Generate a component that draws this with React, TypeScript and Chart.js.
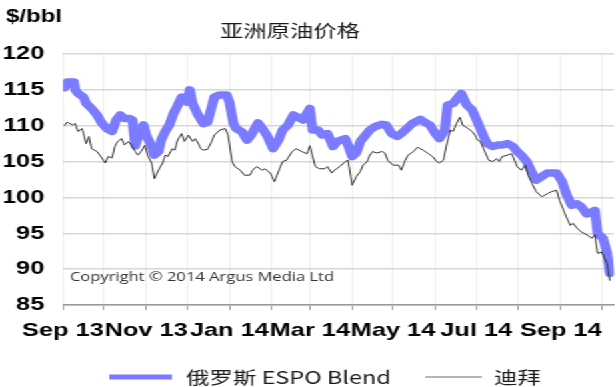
import React, { useEffect, useRef } from 'react';
import { Chart, registerables } from 'chart.js';

Chart.register(...registerables);

// ---------- data ----------
const AXIS_START = '2013-09-01';
const AXIS_END = '2014-10-10';

const monthTicks = [
  '2013-09-01', '2013-10-01', '2013-11-01', '2013-12-01', '2014-01-01', '2014-02-01', '2014-03-01',
  '2014-04-01', '2014-05-01', '2014-06-01', '2014-07-01', '2014-08-01', '2014-09-01', '2014-10-01',
];
const monthTickLabels = ['Sep 13', '', 'Nov 13', '', 'Jan 14', '', 'Mar 14', '', 'May 14', '', 'Jul 14', '', 'Sep 14', ''];

const yMin = 85;
const yMax = 120;
const yStep = 5;

const seriesNames = ['俄罗斯 ESPO Blend', '迪拜'];
const titleText = '亚洲原油价格';
const unitText = '$/bbl';
const copyrightText = 'Copyright © 2014 Argus Media Ltd';

const espoDates = [
  '2013-09-02', '2013-09-04', '2013-09-09', '2013-09-10', '2013-09-12', '2013-09-16', '2013-09-18', '2013-09-22',
  '2013-09-26', '2013-09-29', '2013-10-03', '2013-10-07', '2013-10-10', '2013-10-13', '2013-10-16', '2013-10-20',
  '2013-10-22', '2013-10-24', '2013-10-27', '2013-10-30', '2013-11-01', '2013-11-05', '2013-11-07', '2013-11-10',
  '2013-11-12', '2013-11-15', '2013-11-18', '2013-11-21', '2013-11-23', '2013-11-27', '2013-12-01', '2013-12-03',
  '2013-12-05', '2013-12-09', '2013-12-13', '2013-12-16', '2013-12-19', '2013-12-21', '2013-12-25', '2013-12-30',
  '2014-01-01', '2014-01-04', '2014-01-06', '2014-01-10', '2014-01-14', '2014-01-17', '2014-01-22', '2014-01-26',
  '2014-01-29', '2014-02-02', '2014-02-06', '2014-02-09', '2014-02-13', '2014-02-17', '2014-02-20', '2014-02-24',
  '2014-03-01', '2014-03-03', '2014-03-07', '2014-03-10', '2014-03-14', '2014-03-18', '2014-03-21', '2014-03-27',
  '2014-03-29', '2014-04-01', '2014-04-04', '2014-04-07', '2014-04-10', '2014-04-14', '2014-04-18', '2014-04-23',
  '2014-04-26', '2014-04-30', '2014-05-04', '2014-05-07', '2014-05-11', '2014-05-15', '2014-05-21', '2014-05-24',
  '2014-05-28', '2014-06-01', '2014-06-04', '2014-06-08', '2014-06-10', '2014-06-14', '2014-06-17', '2014-06-20',
  '2014-06-24', '2014-06-28', '2014-07-02', '2014-07-06', '2014-07-09', '2014-07-13', '2014-07-17', '2014-07-20',
  '2014-07-24', '2014-07-28', '2014-07-31', '2014-08-03', '2014-08-07', '2014-08-11', '2014-08-14', '2014-08-18',
  '2014-08-22', '2014-08-29', '2014-09-02', '2014-09-05', '2014-09-09', '2014-09-13', '2014-09-16', '2014-09-20',
  '2014-09-24', '2014-09-26', '2014-09-28', '2014-10-02', '2014-10-05', '2014-10-07',
];
const espoPrices = [
  115.3, 116.1, 116.1, 115.0, 114.5, 114.0, 113.1, 112.4,
  111.5, 110.5, 109.6, 109.2, 110.8, 111.5, 111.0, 111.0,
  110.8, 107.2, 109.0, 110.1, 108.7, 107.1, 105.9, 106.4,
  108.0, 109.2, 110.1, 111.7, 112.4, 114.0, 113.3, 115.0,
  113.1, 111.5, 110.3, 110.5, 112.6, 114.0, 114.3, 114.3,
  113.3, 110.3, 109.6, 109.2, 108.0, 108.7, 110.4, 109.4,
  108.5, 106.8, 108.0, 109.4, 110.1, 111.5, 111.2, 110.8,
  112.4, 109.4, 109.4, 108.7, 108.9, 107.1, 107.8, 108.2,
  107.3, 105.7, 106.2, 107.8, 108.5, 109.4, 109.9, 110.2,
  110.1, 108.9, 108.5, 108.9, 109.6, 110.3, 110.9, 110.5,
  110.1, 108.9, 108.2, 109.4, 112.9, 113.1, 113.8, 114.5,
  112.9, 112.2, 110.5, 108.7, 107.5, 107.1, 107.3, 107.3,
  107.5, 107.1, 106.4, 105.9, 105.0, 103.4, 102.4, 102.9,
  103.4, 103.4, 102.2, 100.5, 98.9, 99.1, 98.7, 97.7,
  98.0, 98.2, 95.0, 94.3, 92.2, 89.4,
];

const dubaiDates = [
  '2013-09-02', '2013-09-04', '2013-09-08', '2013-09-10', '2013-09-12', '2013-09-15', '2013-09-18', '2013-09-20',
  '2013-09-22', '2013-09-26', '2013-09-28', '2013-10-02', '2013-10-04', '2013-10-07', '2013-10-09', '2013-10-11',
  '2013-10-14', '2013-10-16', '2013-10-19', '2013-10-22', '2013-10-24', '2013-10-26', '2013-10-29', '2013-10-31',
  '2013-11-02', '2013-11-05', '2013-11-07', '2013-11-10', '2013-11-13', '2013-11-15', '2013-11-17', '2013-11-20',
  '2013-11-22', '2013-11-24', '2013-11-27', '2013-11-29', '2013-12-02', '2013-12-05', '2013-12-07', '2013-12-09',
  '2013-12-11', '2013-12-13', '2013-12-16', '2013-12-19', '2013-12-21', '2013-12-25', '2013-12-29', '2013-12-31',
  '2014-01-03', '2014-01-05', '2014-01-09', '2014-01-12', '2014-01-16', '2014-01-18', '2014-01-21', '2014-01-25',
  '2014-01-27', '2014-01-31', '2014-02-03', '2014-02-06', '2014-02-09', '2014-02-12', '2014-02-16', '2014-02-19',
  '2014-02-23', '2014-02-27', '2014-03-01', '2014-03-05', '2014-03-08', '2014-03-12', '2014-03-14', '2014-03-17',
  '2014-03-19', '2014-03-23', '2014-03-27', '2014-03-29', '2014-03-31', '2014-04-01', '2014-04-04', '2014-04-07',
  '2014-04-09', '2014-04-12', '2014-04-14', '2014-04-16', '2014-04-19', '2014-04-23', '2014-04-25', '2014-04-27',
  '2014-05-01', '2014-05-05', '2014-05-07', '2014-05-10', '2014-05-12', '2014-05-16', '2014-05-19', '2014-05-23',
  '2014-05-27', '2014-05-30', '2014-06-02', '2014-06-04', '2014-06-07', '2014-06-09', '2014-06-12', '2014-06-14',
  '2014-06-17', '2014-06-19', '2014-06-21', '2014-06-25', '2014-06-28', '2014-06-30', '2014-07-02', '2014-07-04',
  '2014-07-08', '2014-07-10', '2014-07-13', '2014-07-16', '2014-07-18', '2014-07-20', '2014-07-24', '2014-07-27',
  '2014-07-29', '2014-07-31', '2014-08-03', '2014-08-06', '2014-08-08', '2014-08-11', '2014-08-14', '2014-08-18',
  '2014-08-22', '2014-08-25', '2014-08-29', '2014-08-31', '2014-09-02', '2014-09-05', '2014-09-08', '2014-09-10',
  '2014-09-13', '2014-09-16', '2014-09-20', '2014-09-24', '2014-09-26', '2014-09-28', '2014-10-01', '2014-10-05',
  '2014-10-07',
];
const dubaiPrices = [
  110.0, 110.5, 110.1, 110.3, 109.2, 109.6, 107.5, 108.5,
  106.8, 106.4, 105.9, 104.8, 105.7, 105.5, 107.1, 107.8,
  108.2, 107.3, 107.8, 107.1, 106.4, 105.9, 106.6, 107.3,
  105.9, 104.8, 102.6, 103.8, 104.8, 105.9, 105.7, 106.8,
  106.6, 108.0, 108.9, 107.8, 108.7, 107.8, 108.2, 107.6,
  106.8, 106.6, 106.7, 107.8, 108.7, 109.4, 109.6, 108.7,
  105.0, 104.3, 103.8, 103.1, 103.1, 103.8, 104.3, 103.8,
  104.0, 103.4, 102.2, 103.6, 105.0, 105.2, 106.4, 106.8,
  106.4, 106.1, 107.2, 104.3, 104.0, 104.0, 104.3, 103.4,
  103.8, 104.3, 105.0, 105.2, 102.9, 101.7, 102.9, 103.6,
  104.5, 105.0, 105.9, 106.4, 106.2, 106.4, 106.2, 105.2,
  104.5, 104.5, 103.8, 105.2, 105.9, 106.4, 107.0, 106.6,
  106.1, 105.7, 105.0, 104.8, 105.2, 107.1, 109.4, 109.2,
  110.5, 111.2, 110.1, 109.6, 109.2, 108.7, 108.0, 107.8,
  106.1, 105.2, 105.0, 105.4, 105.0, 105.7, 105.9, 106.1,
  105.2, 104.3, 103.8, 104.5, 103.1, 101.9, 100.8, 100.1,
  100.5, 100.8, 101.0, 99.6, 98.7, 97.3, 96.1, 96.4,
  95.7, 95.2, 94.8, 94.3, 94.8, 92.2, 92.4, 90.8,
  88.4,
];

// ---------- helpers / styles ----------
const dayOf = (d: string) => Math.round((Date.parse(d) - Date.parse(AXIS_START)) / 86400000);

const STRETCH = 4 / 3;
const W = 462;
const H = 387;
const ESPO_COLOR = '#7b7bff';
const DUBAI_COLOR = '#333333';
const TICK_FONT = { family: "'Liberation Sans', Arial, sans-serif", size: 19, weight: 'bold' as const };

const overlayPlugin = {
  id: 'overlayTexts',
  afterDraw(chart: any) {
    const ctx = chart.ctx as CanvasRenderingContext2D;
    ctx.save();
    ctx.textBaseline = 'middle';

    ctx.fillStyle = '#000';
    ctx.textAlign = 'left';
    ctx.font = "bold 18px 'Liberation Sans', Arial, sans-serif";
    ctx.fillText(unitText, 4.5, 17.5);

    ctx.fillStyle = '#1a1a1a';
    ctx.textAlign = 'center';
    ctx.font = "17.5px 'Noto Sans CJK SC', sans-serif";
    ctx.fillText(titleText, 217.5, 30);

    ctx.fillStyle = '#333';
    ctx.textAlign = 'left';
    ctx.font = "12.4px 'Open Sans', sans-serif";
    ctx.fillText(copyrightText, 52.5, 277);

    // legend
    const ly = 377;
    ctx.lineCap = 'butt';
    ctx.strokeStyle = ESPO_COLOR;
    ctx.lineWidth = 5;
    ctx.beginPath();
    ctx.moveTo(82, ly);
    ctx.lineTo(129, ly);
    ctx.stroke();
    ctx.strokeStyle = '#b5b5b5';
    ctx.lineWidth = 2;
    ctx.beginPath();
    ctx.moveTo(319, ly);
    ctx.lineTo(361.5, ly);
    ctx.stroke();

    ctx.fillStyle = '#1a1a1a';
    ctx.font = "17.6px 'Noto Sans CJK SC', sans-serif";
    ctx.fillText(seriesNames[0], 139.5, ly);
    ctx.fillText(seriesNames[1], 370.5, ly);
    ctx.restore();
  },
};

export default function App() {
  const canvasRef = useRef<HTMLCanvasElement | null>(null);

  useEffect(() => {
    const canvas = canvasRef.current;
    if (!canvas) return;
    const chart = new Chart(canvas, {
      type: 'line',
      data: {
        datasets: [
          {
            label: seriesNames[0],
            data: espoDates.map((d, i) => ({ x: dayOf(d), y: espoPrices[i] })),
            borderColor: ESPO_COLOR,
            backgroundColor: ESPO_COLOR,
            borderWidth: 7.5,
            pointRadius: 0,
            tension: 0,
            borderJoinStyle: 'round',
            borderCapStyle: 'round',
            order: 1,
          },
          {
            label: seriesNames[1],
            data: dubaiDates.map((d, i) => ({ x: dayOf(d), y: dubaiPrices[i] })),
            borderColor: DUBAI_COLOR,
            backgroundColor: DUBAI_COLOR,
            borderWidth: 1,
            pointRadius: 0,
            tension: 0,
            order: 0,
          },
        ],
      },
      options: {
        responsive: false,
        animation: false,
        devicePixelRatio: 1,
        layout: { padding: { left: 3.25, right: 1.5, top: 54, bottom: 36.2 } },
        plugins: {
          legend: { display: false },
          title: { display: false },
          tooltip: { enabled: false },
        },
        scales: {
          x: {
            type: 'linear',
            min: dayOf(AXIS_START),
            max: dayOf(AXIS_END),
            afterBuildTicks: (scale: any) => {
              scale.ticks = monthTicks.map((d) => ({ value: dayOf(d) }));
            },
            ticks: {
              autoSkip: false,
              maxRotation: 0,
              minRotation: 0,
              padding: 9,
              color: '#000',
              font: TICK_FONT,
              callback: (_v: any, i: number) => monthTickLabels[i] ?? '',
            },
            grid: { color: '#efefe3', lineWidth: 1, tickLength: 5, tickColor: '#9a9a9a', drawTicks: true },
            border: { color: '#9a9a9a', width: 1.5 },
          },
          y: {
            min: yMin,
            max: yMax,
            afterFit: (scale: any) => {
              scale.width = 44;
            },
            ticks: { stepSize: yStep, padding: 14, color: '#000', font: TICK_FONT },
            grid: { color: '#d6d6d6', lineWidth: 1.5, drawTicks: false },
            border: { display: false },
          },
        },
      },
      plugins: [overlayPlugin],
    } as any);
    return () => chart.destroy();
  }, []);

  return (
    <div
      style={{
        position: 'absolute',
        left: 0,
        top: 0,
        width: W,
        height: H,
        transform: `scaleX(${STRETCH})`,
        transformOrigin: '0 0',
        background: '#fff',
      }}
    >
      <canvas ref={canvasRef} width={W} height={H} style={{ display: 'block' }} />
    </div>
  );
}
